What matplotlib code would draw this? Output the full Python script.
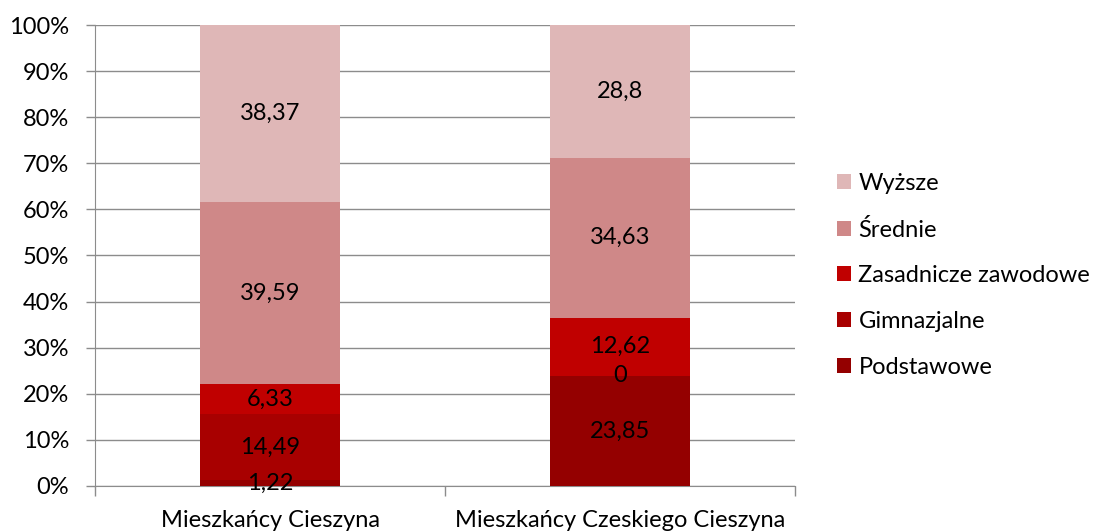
import matplotlib.pyplot as plt
import numpy as np

plt.rcParams['font.family'] = ['Lato', 'DejaVu Sans']

categories = ['Mieszkańcy Cieszyna', 'Mieszkańcy Czeskiego Cieszyna']
levels = ['Podstawowe', 'Gimnazjalne', 'Zasadnicze zawodowe', 'Średnie', 'Wyższe']
podstawowe = [1.22, 23.85]
gimnazjalne = [14.49, 0]
zasadnicze = [6.33, 12.62]
srednie = [39.59, 34.63]
wyzsze = [38.37, 28.8]
colors = ['#940000', '#A80000', '#C00000', '#CF8888', '#DFB7B7']

series = np.array([podstawowe, gimnazjalne, zasadnicze, srednie, wyzsze], dtype=float)
shares = series / series.sum(axis=0) * 100

fig = plt.figure(figsize=(11, 5.32), dpi=100)
ax = fig.add_axes([0.0864, 0.0865, 0.6363, 0.8665])

fs = 17
x = np.arange(len(categories))
bottom = np.zeros(len(categories))
handles = []
for i, name in enumerate(levels):
    h = ax.bar(x, shares[i], 0.4, bottom=bottom, color=colors[i], label=name, zorder=3)
    handles.append(h)
    for j in range(len(categories)):
        ax.text(x[j], bottom[j] + shares[i][j] / 2, '{:g}'.format(series[i][j]).replace('.', ','),
                ha='center', va='center', fontsize=fs, color='black', zorder=4)
    bottom += shares[i]

ax.set_xlim(-0.5, 1.5)
ax.set_ylim(0, 100)
ax.set_yticks(np.arange(0, 101, 10))
ax.set_yticklabels(['{}%'.format(v) for v in range(0, 101, 10)], fontsize=fs)
ax.yaxis.grid(True, color='#8c8c8c', linewidth=1, zorder=0)
ax.set_xticks(x)
ax.set_xticklabels(categories, fontsize=fs)
ax.tick_params(axis='x', length=0, pad=17)
ax.set_xticks([-0.5, 0.5, 1.5], minor=True)
ax.tick_params(axis='x', which='minor', length=7, color='#8c8c8c', width=1)
ax.tick_params(axis='y', length=6.5, color='#8c8c8c', width=1, pad=12)
for s in ['top', 'right']:
    ax.spines[s].set_visible(False)
ax.spines['left'].set_color('#8c8c8c')
ax.spines['bottom'].set_color('#8c8c8c')

ax.legend(handles[::-1], levels[::-1], loc='center left', bbox_to_anchor=(1.03, 0.457),
          frameon=False, fontsize=fs, handlelength=0.6, handleheight=0.6,
          handletextpad=0.3, labelspacing=1.05)

fig.savefig('out.png', dpi=100)
